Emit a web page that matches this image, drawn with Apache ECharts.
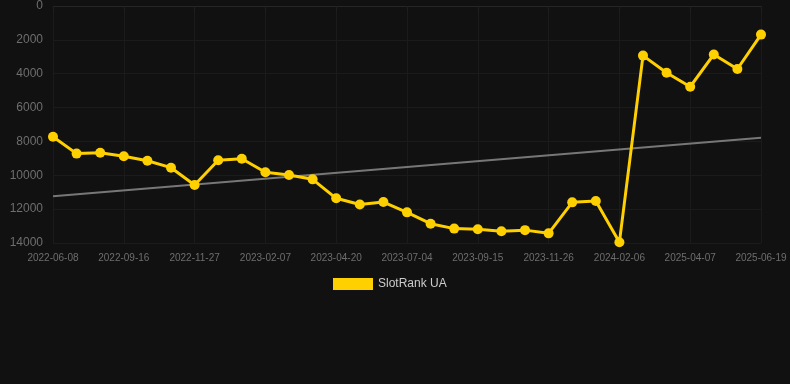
<!DOCTYPE html>
<html><head><meta charset="utf-8">
<script src="https://cdn.jsdelivr.net/npm/echarts@6/dist/echarts.min.js"></script>
<style>html,body{margin:0;padding:0;background:#111111;}#c{width:790px;height:384px;}</style>
</head><body><div id="c"></div>
<script>
var categories = ['2022-06-08','2022-07-12','2022-08-15','2022-09-16','2022-10-11','2022-11-03','2022-11-27','2022-12-22','2023-01-15','2023-02-07','2023-03-03','2023-03-27','2023-04-20','2023-05-15','2023-06-09','2023-07-04','2023-07-28','2023-08-21','2023-09-15','2023-10-09','2023-11-02','2023-11-26','2023-12-20','2024-01-13','2024-02-06','2025-03-01','2025-03-19','2025-04-07','2025-05-01','2025-05-26','2025-06-19'];
var rankValues = [7720,8720,8670,8880,9140,9550,10570,9110,9020,9820,9980,10240,11360,11730,11580,12190,12860,13150,13190,13310,13240,13430,11600,11520,13960,2930,3940,4770,2860,3720,1690];
var trendStart = 11240;
var trendEnd = 7780;
var seriesName = 'SlotRank UA';

var chart = echarts.init(document.getElementById('c'));
var last = categories.length - 1;
chart.setOption({
  backgroundColor: '#111111',
  animation: false,
  grid: {left: 53, right: 29, top: 6, bottom: 141},
  legend: {
    top: 273, left: 328,
    data: [{name: seriesName, icon: 'rect'}],
    itemWidth: 40, itemHeight: 12, itemGap: 5,
    textStyle: {color: '#cccccc', fontSize: 12}
  },
  xAxis: {
    type: 'category', data: categories, boundaryGap: false,
    axisLine: {show: true, lineStyle: {color: '#262626'}},
    axisTick: {show: true, interval: 2, length: 5, lineStyle: {color: '#1f1f1f'}},
    axisLabel: {interval: 2, color: '#6e6e6e', fontSize: 10, margin: 10},
    splitLine: {show: true, interval: 2, lineStyle: {color: '#1b1b1b'}}
  },
  yAxis: {
    type: 'value', inverse: true, min: 0, max: 14000, interval: 2000,
    axisLine: {show: false}, axisTick: {show: false},
    axisLabel: {color: '#6e6e6e', fontSize: 12, margin: 10, formatter: function (v) { return String(v); }},
    splitLine: {lineStyle: {color: '#1b1b1b'}}
  },
  series: [
    {
      name: 'trend', type: 'line', data: [[categories[0], trendStart], [categories[last], trendEnd]],
      symbol: 'none', lineStyle: {color: '#777777', width: 2}, z: 1, silent: true
    },
    {
      name: seriesName, type: 'line', data: rankValues,
      symbol: 'circle', symbolSize: 10,
      itemStyle: {color: '#FFD000'},
      lineStyle: {color: '#FFD000', width: 3}, z: 3
    }
  ]
});
</script></body></html>
